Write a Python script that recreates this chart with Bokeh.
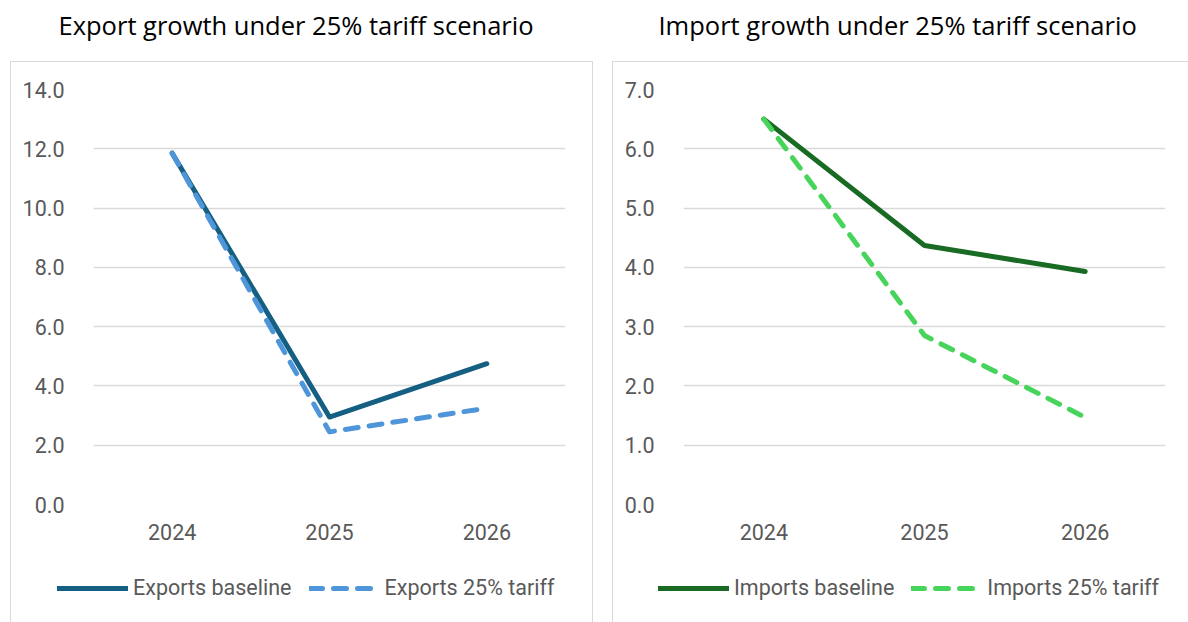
from bokeh.plotting import figure
from bokeh.layouts import row, column
from bokeh.models import (FactorRange, Range1d, Legend, LegendItem, Title,
                          FixedTicker, NumeralTickFormatter, InlineStyleSheet)
from bokeh.embed import file_html
from bokeh.resources import INLINE

# ---- data ----
years = ["2024", "2025", "2026"]
exports_baseline = [11.85, 2.95, 4.75]
exports_tariff = [11.85, 2.45, 3.25]
imports_baseline = [6.5, 4.37, 3.93]
imports_tariff = [6.5, 2.85, 1.47]
export_ticks = [0, 2, 4, 6, 8, 10, 12, 14]
import_ticks = [0, 1, 2, 3, 4, 5, 6, 7]

TICK_FONT = "Roboto"
TITLE_FONT = "Open Sans"
GREY = "#595959"
BOX = "1.5px solid #d9d9d9"
LABEL_SIZE = "21.5px"


def box_css(left, top, width, height, sides):
    rules = [f"border-{s}: {BOX};" for s in sides]
    return InlineStyleSheet(css=(
        ":host { position: relative; } "
        ":host::after { content: ''; position: absolute; "
        f"left: {left}px; top: {top}px; width: {width}px; height: {height}px; "
        + " ".join(rules) +
        " box-sizing: border-box; pointer-events: none; }"))


def make_panel(title, ticks, ymax, base, tariff, names, colors, width,
               border_left, border_right, title_offset, legend_x,
               box_left, box_width, sides):
    p = figure(x_range=FactorRange(*years, range_padding=0),
               y_range=Range1d(0, ymax),
               width=width, height=560, output_backend="svg",
               toolbar_location=None,
               min_border_left=border_left, min_border_right=border_right,
               min_border_top=89, min_border_bottom=56)
    p.outline_line_color = None
    p.background_fill_color = "white"
    p.border_fill_color = "white"

    p.title.text = title
    p.title.text_font = TITLE_FONT
    p.title.text_font_size = "25.5px"
    p.title.text_font_style = "normal"
    p.title.text_color = "#000000"
    p.title.align = "left"
    p.title.offset = title_offset
    p.title.standoff = 4
    # empty spacer between the title and the plot area
    p.add_layout(Title(text=" ", text_font_size="1px", standoff=43), "above")

    p.xgrid.grid_line_color = None
    p.ygrid.grid_line_color = "#d9d9d9"
    p.ygrid.grid_line_width = 1.5

    p.yaxis.ticker = FixedTicker(ticks=ticks)
    p.yaxis.formatter = NumeralTickFormatter(format="0.0")
    for ax in (p.xaxis[0], p.yaxis[0]):
        ax.axis_line_color = None
        ax.major_tick_line_color = None
        ax.minor_tick_line_color = None
        ax.major_label_text_font = TICK_FONT
        ax.major_label_text_font_size = LABEL_SIZE
        ax.major_label_text_color = GREY
    p.yaxis.major_label_standoff = 23
    p.xaxis.major_label_standoff = 13

    p.line(years, base, line_color=colors[0], line_width=5,
           line_cap="round", line_join="round")
    p.line(years, tariff, line_color=colors[1], line_width=5,
           line_dash="13 11", line_cap="round", line_join="round")
    p.stylesheets = [box_css(box_left, 61, box_width, 499,
                             [s for s in sides if s != "bottom"] + ["top"])]

    # legend strip below the chart (same series, outside its visible range)
    q = figure(x_range=FactorRange(*years, range_padding=0),
               y_range=Range1d(-1001, -1000),
               width=width, height=62, output_backend="svg",
               toolbar_location=None, x_axis_location=None,
               y_axis_location=None, min_border=0)
    if "frame_align" in q.properties():
        q.frame_align = False
        p.frame_align = False
    q.outline_line_color = None
    q.xgrid.grid_line_color = None
    q.ygrid.grid_line_color = None
    l1 = q.line(years, base, line_color=colors[0], line_width=5,
                line_cap="round", line_join="round")
    l2 = q.line(years, tariff, line_color=colors[1], line_width=5,
                line_dash="13 11", line_cap="round", line_join="round")
    legend = Legend(items=[LegendItem(label=names[0], renderers=[l1]),
                           LegendItem(label=names[1], renderers=[l2])],
                    orientation="horizontal", location=(legend_x, 22),
                    glyph_width=71, glyph_height=20, label_standoff=5,
                    spacing=17, padding=0, margin=0,
                    border_line_alpha=0, background_fill_alpha=0,
                    label_text_font=TICK_FONT, label_text_font_size=LABEL_SIZE,
                    label_text_color=GREY)
    q.add_layout(legend, "center")
    q.stylesheets = [box_css(box_left, 0, box_width, 62,
                             [s for s in sides if s in ("left", "right")])]
    return column(p, q, spacing=0)


c1 = make_panel("Export growth under 25% tariff scenario", export_ticks, 14,
                exports_baseline, exports_tariff,
                ["Exports baseline", "Exports 25% tariff"],
                ["#156082", "#4E95D9"], 600, 93, 35, -35, 57,
                10, 583, ["left", "right"])
c2 = make_panel("Import growth under 25% tariff scenario", import_ticks, 7,
                imports_baseline, imports_tariff,
                ["Imports baseline", "Imports 25% tariff"],
                ["#196B24", "#47D45A"], 588, 83, 23, -25, 58,
                12, 576, ["left"])

layout = row(c1, c2, spacing=0)
open("out.html", "w").write(file_html(layout, INLINE))
